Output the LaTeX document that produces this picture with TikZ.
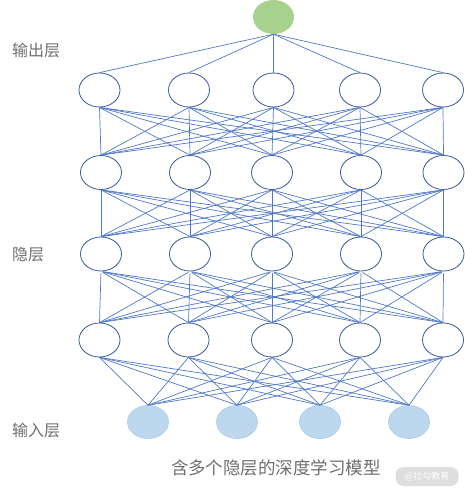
\documentclass[tikz,border=0pt]{standalone}
\usepackage{fontspec}
\setmainfont{Noto Sans CJK SC}
\usetikzlibrary{shapes.geometric}
\definecolor{edgeblue}{RGB}{80,120,200}
\definecolor{rimblue}{RGB}{60,90,150}
\definecolor{outgreen}{RGB}{169,209,142}
\definecolor{inblue}{RGB}{189,215,238}
\definecolor{inrim}{RGB}{170,200,230}
\definecolor{labelgrey}{RGB}{110,110,110}
\definecolor{wmgrey}{RGB}{222,222,222}
\tikzset{
  neuron/.style={ellipse, draw=rimblue, line width=0.8pt, fill=white, minimum width=41pt, minimum height=34pt, inner sep=0pt},
  outneuron/.style={ellipse, draw=none, fill=outgreen, minimum width=41pt, minimum height=34pt, inner sep=0pt},
  inneuron/.style={ellipse, draw=inrim, line width=0.6pt, fill=inblue, minimum width=41pt, minimum height=33pt, inner sep=0pt},
  link/.style={draw=edgeblue, line width=0.7pt},
  layerlabel/.style={text=labelgrey, font=\fontsize{16}{16}\selectfont, inner sep=0pt},
}
\begin{document}
\begin{tikzpicture}[x=1pt,y=-1pt]
\useasboundingbox (0,0) rectangle (465,491);
% output
\node[outneuron] (o) at (273.5,17) {};
% hidden layers
\foreach \i/\x in {1/99.5,2/189,3/273.5,4/360,5/443} { \node[neuron] (a\i) at (\x,90) {}; }
\foreach \i/\x in {1/101,2/190,3/272,4/361,5/443.5} { \node[neuron] (b\i) at (\x,172.5) {}; }
\foreach \i/\x in {1/101,2/190,3/272,4/361,5/443.5} { \node[neuron] (c\i) at (\x,254) {}; }
\foreach \i/\x in {1/99.5,2/188.5,3/272,4/360,5/443} { \node[neuron] (d\i) at (\x,340) {}; }
% input
\foreach \i/\x in {1/148,2/237,3/320,4/409} { \node[inneuron] (e\i) at (\x,422) {}; }
% connectors
\foreach \j in {1,...,5} { \draw[link] (o.south) -- (a\j.north); }
\foreach \i in {1,...,5} { \foreach \j in {1,...,5} {
  \draw[link] (a\i.south) -- (b\j.north);
  \draw[link] (b\i.south) -- (c\j.north);
  \draw[link, shorten <=2pt] (c\i.south) -- (d\j.north);
}}
\foreach \i in {1,...,5} { \foreach \j in {1,...,4} { \draw[link] (d\i.south) -- (e\j.north); } }
% labels
\node[layerlabel, anchor=west] (lo) at (12,50) {输出层};
\node[layerlabel, anchor=west] (lh) at (12,255) {隐层};
\node[layerlabel, anchor=west] (li) at (12,430) {输入层};
\node[text=labelgrey, font=\fontsize{17.5}{17.5}\selectfont, inner sep=0pt] (cap) at (276,468) {含多个隐层的深度学习模型};
\node[fill=wmgrey, rounded corners=8pt, text=white, font=\fontsize{9}{9}\selectfont, minimum width=63pt, minimum height=19pt, inner sep=0pt] (wm) at (427,476.5) {@拉勾教育};
\end{tikzpicture}
\end{document}
